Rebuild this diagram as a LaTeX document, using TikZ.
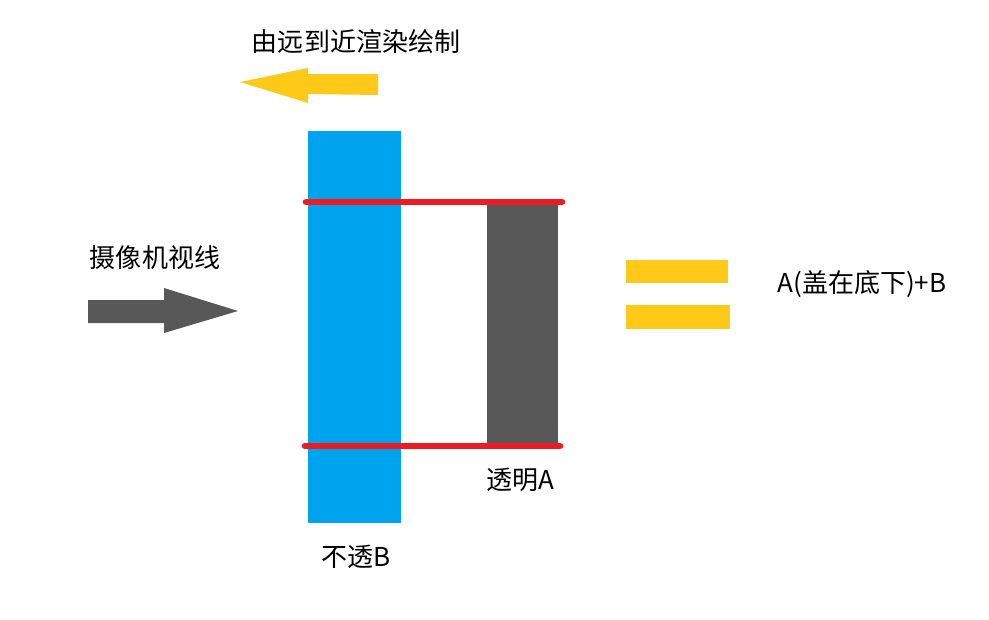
\documentclass[tikz,border=0pt]{standalone}
\usepackage{fontspec}
\setmainfont{Noto Sans CJK SC}

\definecolor{opaqueblue}{RGB}{0,164,238}
\definecolor{lineread}{RGB}{237,28,36}
\definecolor{darkgrey}{RGB}{88,88,88}
\definecolor{arrowyellow}{RGB}{255,201,24}

\tikzset{
    label text/.style={inner sep=0pt, font=\fontsize{14.8pt}{18pt}\selectfont},
    edge line/.style={lineread, line width=3.8pt, line cap=round}
}

\begin{document}
\begin{tikzpicture}[x=0.02cm, y=-0.02cm]
    \useasboundingbox (0,0) rectangle (989,619);

    % Render order arrow
    \node[label text] (order) at (356,42) {由远到近渲染绘制};
    \fill[arrowyellow] (378,74) -- (308,74) -- (308,68) -- (240,82) -- (308,103) -- (308,94) -- (378,95) -- cycle;

    % Camera arrow
    \node[label text] (camera) at (155,258) {摄像机视线};
    \fill[darkgrey] (88,300) -- (164,300) -- (164,288) -- (238,311) -- (164,333) -- (164,323) -- (88,323) -- cycle;

    % Layers
    \fill[opaqueblue] (308,131) rectangle (401,523);
    \fill[darkgrey] (487,202) rectangle (558,446);
    \coordinate (top west) at (306,202);
    \coordinate (top east) at (562,202);
    \coordinate (bottom west) at (305,446);
    \coordinate (bottom east) at (560,446);
    \draw[edge line] (top west) -- (top east);
    \draw[edge line] (bottom west) -- (bottom east);
    \node[label text] (transparent) at (520,480) {透明A};
    \node[label text] (opaque) at (356,557) {不透B};

    % Result
    \fill[arrowyellow] (626,260) rectangle (728,283);
    \fill[arrowyellow] (626,305) rectangle (730,329);
    \node[label text] (result) at (862,284) {A(盖在底下)+B};
\end{tikzpicture}
\end{document}
